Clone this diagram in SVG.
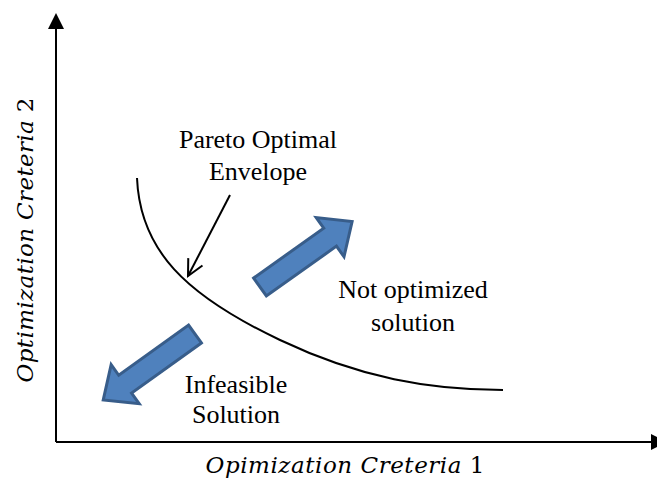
<svg xmlns="http://www.w3.org/2000/svg" width="657" height="485" viewBox="0 0 657 485">
<style>
.lbl{font-family:"Liberation Serif","Times New Roman",serif;font-size:26px;fill:#000;text-anchor:middle}
.ax{font-family:"DejaVu Serif",serif;font-size:23px;font-style:italic;fill:#000;text-anchor:middle}
.blk{fill:#4F81BD;stroke:#385D8A;stroke-width:3;stroke-linejoin:miter}
.ln{fill:none;stroke:#000;stroke-width:2}
</style>
<defs>
<marker id="vee" viewBox="0 0 20 20" refX="18" refY="10" markerWidth="20" markerHeight="20" orient="auto" markerUnits="userSpaceOnUse">
<path d="M2,2 L18,10 L2,18" fill="none" stroke="#000" stroke-width="2"/>
</marker>
<path id="barrow" d="M0,-11 L86,-11 L86,-24 L113,0 L86,24 L86,11 L0,11 Z"/>
</defs>
<rect width="657" height="485" fill="#fff"/>
<g id="connectors">
<path id="y-axis" class="ln" d="M56,442 L56,28"/>
<path d="M48,29 L56,13 L64,29 Z" fill="#000"/>
<path id="x-axis" class="ln" d="M56,442 L652,442"/>
<path d="M651,434 L667,442 L651,450 Z" fill="#000"/>
<path id="pareto-curve" class="ln" d="M137,178 C140,250 185,295 280,340 C360,378 430,390 503,390"/>
<path id="pareto-pointer" class="ln" d="M230,195 L188,276" marker-end="url(#vee)"/>
</g>
<g id="arrow-not-optimized">
<use href="#barrow" class="blk" transform="translate(260,287) rotate(-35.4)"/>
</g>
<g id="arrow-infeasible">
<use href="#barrow" class="blk" transform="translate(195,334) rotate(144.3)"/>
</g>
<g id="label-pareto">
<text class="lbl" x="258" y="148">Pareto Optimal</text>
<text class="lbl" x="258" y="180">Envelope</text>
</g>
<g id="label-not-optimized">
<text class="lbl" x="413" y="298">Not optimized</text>
<text class="lbl" x="413" y="331">solution</text>
</g>
<g id="label-infeasible">
<text class="lbl" x="236" y="393">Infeasible</text>
<text class="lbl" x="236" y="423">Solution</text>
</g>
<g id="label-x-axis">
<text class="ax" x="345" y="473" textLength="279">Opimization Creteria <tspan font-style="normal">1</tspan></text>
</g>
<g id="label-y-axis">
<text class="ax" transform="translate(33,240) rotate(-90)" textLength="285">Optimization Creteria <tspan font-style="normal">2</tspan></text>
</g>
</svg>
